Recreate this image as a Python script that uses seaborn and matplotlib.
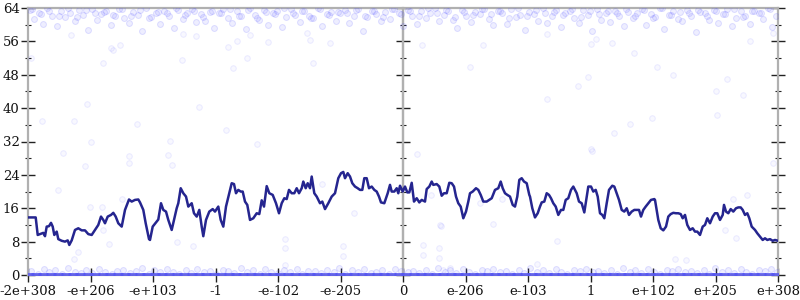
import numpy as np
import pandas as pd
import matplotlib
matplotlib.use("Agg")
import matplotlib.pyplot as plt
from matplotlib.ticker import MultipleLocator, NullFormatter
import seaborn as sns

# ---------------- data ----------------
x_tick_labels = ["-2e+308", "-e+206", "-e+103", "-1", "-e-102", "-e-205", "0",
                 "e-206", "e-103", "1", "e+102", "e+205", "e+308"]

# moving-average line (x in slot units 0..750, 62.5 per labelled tick)
line_x = [0, 7.7, 9.7, 12, 15.3, 17, 18.7, 21, 23, 24.7, 26.3, 28.7, 30.3, 33.7, 37, 39.7, 41.3, 43.7,
          47, 50.3, 53.7, 57, 60.3, 63.7, 67, 70.3, 73, 75.3, 77, 79.7, 83, 85.3, 87.7, 90.3, 93.7, 97,
          101, 103.7, 107, 110.3, 112, 115.3, 117.7, 121, 122,
          124.7, 128.7, 130.3, 133, 135.3, 138, 140.3, 143.7, 146, 148.7, 150.3, 152.7, 155.3, 158, 160.3,
          163.7, 166, 168.7, 171.3, 173.7, 175.3, 178, 181.3, 184.7, 187, 190.3, 192.7, 195.3, 198, 201.3,
          203.7, 206, 208, 210.3, 212.7, 214.7, 217, 219.3, 222, 225.3, 228.7, 231.3, 233.7, 236, 238.7,
          241.3, 244.7, 248,
          251, 253.7, 256.3, 258.7, 261, 263.7, 266.3, 268.7, 271, 273.7, 275.3, 277.7, 279.7, 282, 283.7,
          286.3, 288.7, 292, 294.3, 297, 300.3, 303.7, 307, 310.3, 313, 315.3, 317, 319.7, 322, 324.3, 327,
          329.7, 332, 334.3, 336.3, 338.7, 341, 343.7, 346.3, 348.7, 351, 353, 356.3, 359.7, 362, 363.7,
          366.3, 368.7, 370.3, 372,
          374.7, 377, 379.3, 381.3, 383.7, 386, 388.7, 391.3, 393.7, 397, 398.7, 401.3, 403.7, 405.3, 408.7,
          411.3, 413.7, 416, 418.7, 421.3, 423.7, 426, 428, 430.3, 432.7, 435.3, 438, 440.3, 442, 444.7, 448,
          450.3, 452.7, 455.3, 458.7, 461.3, 463.7, 467, 470.3, 472.7, 474.7, 477, 479.3, 482, 484.7, 487,
          489.3, 491.3, 493.7, 496, 498.7, 501.3,
          502, 504.3, 507, 509.7, 512, 513.7, 516.3, 518.7, 521, 523, 525.3, 527.7, 530.3, 533, 535.3, 537.7,
          540.3, 543, 545.3, 547, 548.7, 551, 553.7, 556.3, 558.7, 560.3, 563, 565.3, 567.7, 569.7, 572,
          574.3, 576.3, 578.7, 581, 584.3, 586.3, 588.7, 591, 593.7, 596.3, 598.7, 601, 603.7, 606.3, 608.7,
          611, 613, 615.3, 617.7, 620.3, 623, 626.3,
          627, 628.7, 630.3, 632.7, 635.3, 638, 640.3, 642.7, 645.3, 648, 650.3, 652.7, 654.7, 657, 659.3,
          662, 664.7, 667, 669.3, 672, 674.7, 677, 679.3, 682, 684.7, 687, 689.3, 692, 694.7, 696, 698,
          700.3, 702.7, 705.3, 708, 710.3, 712.7, 714.7, 717, 719.3, 721.3, 723.7, 727, 729.3, 732, 734.7,
          737, 739.3, 742, 744.7, 747, 750]
line_y = [13.8, 13.8, 9.6, 9.8, 10.1, 9.3, 11.6, 11.7, 12.5, 11.6, 9.6, 10.4, 8.6, 8.2, 8.0, 8.3, 7.2, 8.3,
          10.8, 11.2, 10.7, 10.7, 9.8, 9.6, 10.8, 12.0, 14.0, 13.2, 12.4, 14.0, 14.4, 14.9, 14.0, 12.4, 11.6, 15.6,
          18.1, 17.6, 18.0, 18.1, 17.4, 15.6, 12.4, 8.6, 8.4,
          11.6, 12.8, 13.3, 17.2, 15.6, 15.2, 13.2, 10.8, 13.2, 16.0, 17.2, 20.8, 19.6, 18.8, 16.4,
          17.2, 14.8, 14.0, 15.6, 11.6, 9.3, 13.2, 15.2, 15.8, 15.2, 16.4, 13.2, 11.6, 16.4, 19.6,
          22.0, 21.8, 19.6, 20.4, 20.0, 20.0, 17.6, 16.8, 13.2, 13.6, 14.8, 14.6, 17.9, 16.4, 21.3,
          19.6, 19.2, 17.2,
          14.8, 17.2, 18.4, 18.2, 20.4, 19.6, 19.6, 20.8, 19.6, 20.8, 22.4, 20.8, 22.0, 20.8, 23.6,
          19.6, 18.8, 17.2, 17.6, 15.8, 17.2, 18.8, 19.6, 23.2, 24.4, 24.7, 23.2, 24.4, 23.6, 22.0, 21.2,
          20.8, 20.4, 20.4, 23.2, 23.2, 20.8, 21.2, 20.4, 20.0, 18.8, 17.4, 17.2, 19.6, 21.6, 20.0,
          20.0, 20.8, 19.6, 21.4,
          20.0, 21.2, 19.8, 19.8, 22.1, 17.6, 18.4, 17.4, 18.0, 17.6, 20.6, 21.2, 22.4, 21.6, 21.8,
          21.2, 19.0, 19.6, 19.6, 22.1, 22.0, 21.2, 18.8, 17.2, 16.4, 13.6, 15.2, 17.6, 19.6, 20.0, 20.8,
          20.4, 19.2, 17.6, 17.6, 18.0, 18.4, 20.4, 20.8, 22.4, 20.8, 19.6, 19.2, 18.8, 16.8, 16.4,
          18.8, 22.8, 23.2, 22.4, 22.0, 19.2,
          18.8, 16.0, 13.8, 14.8, 16.4, 17.4, 17.6, 19.6, 19.2, 18.4, 17.2, 16.4, 14.4, 15.6, 15.6, 18.0,
          18.4, 20.4, 21.2, 20.4, 19.6, 17.6, 17.2, 15.0, 18.8, 21.2, 21.2, 20.0, 20.4, 18.8, 14.8,
          14.4, 13.6, 17.2, 20.4, 21.4, 21.2, 19.6, 18.0, 15.6, 15.2, 16.0, 14.4, 15.2, 15.6, 15.6,
          15.6, 14.0, 15.6, 16.4, 17.2, 18.0, 18.2,
          18.0, 15.6, 13.2, 11.2, 10.7, 11.6, 14.0, 14.6, 14.9, 14.8, 14.8, 14.6, 13.6, 14.4, 12.0,
          10.8, 11.2, 10.4, 10.4, 9.6, 11.6, 12.0, 13.6, 12.4, 14.0, 14.8, 14.8, 13.2, 14.4, 16.8, 15.2,
          14.8, 15.8, 15.2, 16.0, 16.2, 16.2, 15.6, 14.4, 14.8, 13.6, 11.6, 10.8, 10.0, 9.2, 8.4,
          8.8, 8.4, 8.6, 8.2, 8.4, 8.2]

# upper cloud of samples
top_x = [2, 6, 11, 15, 19, 24, 29, 33, 37, 42, 47, 51, 55, 60, 64, 69, 73, 78, 83, 87,
         91, 96, 101, 105, 110, 114, 118, 123, 128, 132, 136, 141, 146, 150, 155, 159, 164, 168, 173, 177,
         182, 186, 191, 195, 200, 204, 209, 213, 218, 222, 227, 231, 236, 240, 245, 249, 254, 258, 263, 267,
         272, 276, 281, 285, 290, 294, 299, 303, 308, 312, 317, 321, 326, 330, 335, 339, 344, 348, 353, 357,
         362, 366, 371, 375, 380, 384, 389, 393, 398, 402, 407, 411, 416, 420, 425, 429, 434, 438, 443, 447,
         452, 456, 461, 465, 470, 474, 479, 483, 488, 492, 497, 501, 506, 510, 515, 519, 524, 528, 533, 537,
         542, 546, 551, 555, 560, 564, 569, 573, 578, 582, 587, 591, 596, 600, 605, 609, 614, 618, 623, 627,
         632, 636, 641, 645, 650, 654, 659, 663, 668, 672, 677, 681, 686, 690, 695, 699, 704, 708, 713, 717,
         722, 726, 731, 735, 740, 744, 748]
top_y = [63.6, 61.4, 62.8, 60.2, 63.9, 62.1, 59.6, 63.2, 61.8, 62.9,
         60.8, 63.5, 62.3, 58.7, 63.8, 61.1, 62.6, 63.3, 59.9, 62.0,
         63.7, 61.6, 60.5, 63.0, 62.4, 58.4, 63.9, 61.9, 62.7, 60.1,
         63.4, 62.2, 59.3, 63.6, 61.3, 62.9, 63.8, 60.7, 62.5, 61.0,
         63.1, 59.1, 62.8, 63.7, 61.7, 60.3, 63.3, 62.1, 58.9, 63.9,
         62.4, 61.2, 63.5, 60.0, 62.7, 63.2, 59.5, 61.9, 63.8, 62.3,
         60.6, 63.4, 62.0, 61.5, 63.9, 59.8, 62.6, 63.1, 61.0, 62.8,
         63.6, 60.4, 62.2, 63.7, 58.6, 61.8, 63.3, 62.5, 60.9, 63.0,
         61.4, 63.8, 62.9, 59.7, 63.5, 62.1, 60.2, 63.2, 61.6, 62.7,
         63.9, 60.8, 62.4, 63.4, 61.1, 59.2, 63.6, 62.0, 60.6, 63.1,
         62.6, 63.8, 61.3, 59.9, 63.3, 62.8, 60.1, 63.7, 61.9, 62.3,
         58.8, 63.0, 62.5, 61.0, 63.9, 60.5, 62.2, 63.5, 59.4, 62.9,
         63.2, 61.7, 60.3, 63.6, 62.4, 58.5, 63.8, 61.2, 62.7, 60.7,
         63.4, 62.0, 59.6, 63.1, 61.5, 62.8, 63.7, 60.0, 62.6, 61.8,
         63.9, 59.0, 62.3, 63.3, 61.4, 60.9, 63.5, 62.1, 58.3, 63.0,
         62.9, 61.1, 63.6, 60.4, 62.5, 63.8, 59.8, 61.6, 63.2, 62.2,
         60.2, 63.4, 62.7, 61.3, 63.9, 59.5, 62.0]

top2_x = [4, 13, 21, 31, 40, 49, 58, 67, 76, 85, 94, 103, 112, 121, 130, 139, 148, 157, 166, 175,
          184, 193, 202, 211, 220, 229, 238, 247, 256, 265, 274, 283, 292, 301, 310, 319, 328, 337, 346, 355,
          364, 373, 382, 391, 400, 409, 418, 427, 436, 445, 454, 463, 472, 481, 490, 499, 508, 517, 526, 535,
          544, 553, 562, 571, 580, 589, 598, 607, 616, 625, 634, 643, 652, 661, 670, 679, 688, 697, 706, 715,
          724, 733, 742]
top2_y = [63.8, 62.6, 63.3, 62.1, 63.9, 61.8, 63.5, 62.9, 63.1, 62.4,
          63.7, 62.2, 63.6, 61.5, 63.0, 62.8, 63.9, 62.3, 63.4, 61.9,
          63.2, 62.7, 63.8, 62.0, 63.5, 61.7, 63.1, 62.5, 63.9, 62.9,
          63.3, 61.6, 63.7, 62.4, 63.0, 62.8, 63.6, 62.1, 63.4, 61.9,
          63.8, 62.6, 63.2, 62.0, 63.9, 62.7, 63.5, 61.8, 63.1, 62.3,
          63.7, 62.5, 63.3, 61.7, 63.9, 62.2, 63.6, 62.9, 63.0, 62.4,
          63.8, 61.9, 63.4, 62.6, 63.2, 62.8, 63.7, 62.1, 63.5, 61.6,
          63.9, 62.3, 63.1, 62.7, 63.6, 62.0, 63.3, 62.5, 63.8, 61.8,
          63.4, 62.9, 63.7]

# sparse samples in the middle of the range
mid_x = [3, 75, 59, 14, 46, 109, 171, 154, 205, 219, 198, 63, 142, 229,
         560, 550, 519, 629, 645, 699, 688, 715, 689, 624, 602, 586, 563, 606,
         35, 101, 57, 101, 140, 144, 30, 62, 74, 94, 75, 81, 50, 46, 149, 165,
         389, 294, 326, 257, 315, 257, 412, 395, 411, 422, 415, 509,
         564, 529, 647, 658, 697, 705, 719, 745, 257, 315, 403, 413, 465, 452, 474, 395, 411, 708,
         83, 92, 85, 43, 222, 200, 209, 240, 168, 155, 563, 584, 568, 722, 519, 745,
         285, 302, 442, 394, 455, 282, 279]
mid_y = [52.1, 50.9, 41.0, 36.9, 36.9, 36.2, 40.3, 51.5, 49.7, 52.0, 34.8, 31.9, 32.2, 31.4,
         47.5, 45.3, 42.2, 49.9, 47.9, 47.1, 44.2, 43.1, 38.4, 37.7, 36.2, 34.0, 30.2, 53.2,
         29.2, 28.5, 26.2, 26.8, 28.8, 26.4, 20.4, 16.4, 16.4, 18.2, 10.8, 7.4, 5.5, 3.8, 7.9, 7.0,
         29.0, 21.8, 14.9, 6.5, 4.6, 2.4, 12.0, 4.8, 4.1, 1.7, 1.2, 2.6,
         29.8, 8.2, 3.8, 3.6, 10.8, 18.2, 19.2, 26.8, 8.6, 7.0, 19.2, 11.8, 12.2, 17.3, 18.2, 7.2, 6.5, 8.9,
         54.3, 55.1, 54.0, 57.5, 57.5, 54.7, 56.2, 55.8, 57.4, 57.7, 55.4, 55.5, 56.6, 56.2, 57.7, 57.9,
         50.7, 55.5, 49.9, 55.2, 55.2, 56.4, 57.9]

# lower cloud of samples (many exact zeros)
zero_x = [1, 8, 15, 23, 30, 38, 45, 52, 60, 67, 75, 82, 90, 97, 104, 112, 119, 127, 134, 141,
          149, 156, 164, 171, 178, 186, 193, 201, 208, 215, 223, 230, 238, 245, 252, 260, 267, 275, 282, 289,
          297, 304, 312, 319, 326, 334, 341, 349, 356, 363, 371, 378, 386, 393, 400, 408, 415, 423, 430, 437,
          445, 452, 460, 467, 474, 482, 489, 497, 504, 511, 519, 526, 534, 541, 548, 556, 563, 571, 578, 585,
          593, 600, 608, 615, 622, 630, 637, 645, 652, 659, 667, 674, 682, 689, 696, 704, 711, 719, 726, 733,
          741, 748]
zero_y = [0.0] * len(zero_x)

low_x = [3, 10, 16, 21, 27, 34, 40, 47, 53, 58, 64, 71, 77, 84, 89, 95, 102, 108, 114, 121,
         126, 132, 139, 145, 151, 158, 163, 169, 176, 182, 188, 195, 200, 206, 213, 219, 225, 232, 237, 243,
         250, 256, 262, 269, 274, 280, 287, 293, 299, 306, 311, 317, 324, 330, 336, 343, 348, 354, 361, 367,
         373, 380, 385, 391, 398, 404, 410, 417, 422, 428, 435, 441, 447, 454, 459, 465, 472, 478, 484, 491,
         496, 502, 509, 515, 521, 528, 533, 539, 546, 552, 558, 565, 570, 576, 583, 589, 595, 602, 607, 613,
         620, 626, 632, 639, 644, 650, 657, 663, 669, 676, 681, 687, 694, 700, 706, 713, 718, 724, 731, 737,
         743, 749]
low_y = [0.9, 0.3, 1.4, 0.6, 1.1, 0.2, 1.6, 0.8, 0.4, 1.2,
         0.5, 1.5, 0.7, 0.2, 1.0, 1.3, 0.4, 0.9, 1.6, 0.3,
         1.1, 0.6, 1.4, 0.8, 0.2, 1.2, 0.5, 1.5, 0.7, 1.0,
         0.3, 1.3, 0.9, 0.4, 1.6, 0.6, 1.1, 0.2, 1.4, 0.8,
         0.5, 1.2, 0.7, 1.5, 0.3, 1.0, 0.9, 0.4, 1.3, 0.6,
         1.6, 0.2, 1.1, 0.8, 1.4, 0.5, 0.7, 1.2, 0.3, 1.5,
         0.9, 0.6, 1.0, 0.4, 1.3, 0.2, 1.6, 0.8, 1.1, 0.5,
         1.4, 0.7, 0.3, 1.2, 0.9, 1.5, 0.6, 1.0, 0.2, 1.3,
         0.4, 1.6, 0.8, 1.1, 0.5, 1.4, 0.7, 0.3, 1.2, 0.9,
         1.5, 0.6, 1.0, 0.4, 1.3, 0.2, 1.6, 0.8, 1.1, 0.5,
         1.4, 0.7, 0.3, 1.2, 0.9, 1.5, 0.6, 1.0, 0.4, 1.3,
         0.2, 1.6, 0.8, 1.1, 0.5, 1.4, 0.7, 0.3, 1.2, 0.9,
         1.5, 0.6]

# ---------------- plotting ----------------
sns.set_style("white")
plt.rcParams["font.family"] = ["DejaVu Serif", "DejaVu Sans"]

band = pd.DataFrame({"x": top_x + top2_x + low_x, "y": top_y + top2_y + low_y})
sparse = pd.DataFrame({"x": mid_x, "y": mid_y})
zeros = pd.DataFrame({"x": zero_x, "y": zero_y})
line_df = pd.DataFrame({"x": line_x, "y": line_y})

fig, ax = plt.subplots(figsize=(8, 3), dpi=100)
fig.subplots_adjust(left=28 / 800, right=778 / 800, top=1 - 8 / 300, bottom=1 - 275 / 300)

spine_grey = "#b0b0b0"
ax.axvline(375, color=spine_grey, lw=1.6, zorder=1)

sns.scatterplot(data=sparse, x="x", y="y", ax=ax, s=16,
                color=(0.3, 0.3, 1.0, 0.04), edgecolor=(0.3, 0.3, 1.0, 0.1),
                linewidth=0.7, zorder=3, legend=False)
sns.scatterplot(data=band, x="x", y="y", ax=ax, s=18,
                color=(0.3, 0.3, 1.0, 0.09), edgecolor=(0.3, 0.3, 1.0, 0.17),
                linewidth=0.7, zorder=3, legend=False)
# the many exact-zero samples overlap into a solid strip along the baseline
sns.scatterplot(data=zeros, x="x", y="y", ax=ax, s=45, marker="_",
                color=(0.33, 0.33, 0.95, 0.8), linewidth=3.6,
                zorder=3, legend=False, clip_on=True)
sns.lineplot(data=line_df, x="x", y="y", ax=ax, color="#25258f", lw=1.8,
             estimator=None, sort=False, zorder=4)

ax.set_xlim(0, 750)
ax.set_ylim(0, 64)
ax.set_xlabel("")
ax.set_ylabel("")

ax.set_xticks([i * 62.5 for i in range(len(x_tick_labels))])
ax.set_xticklabels(x_tick_labels)
ax.yaxis.set_major_locator(MultipleLocator(8))
ax.yaxis.set_minor_locator(MultipleLocator(4))

for s in ax.spines.values():
    s.set_color(spine_grey)
    s.set_linewidth(1.6)

ax.tick_params(axis="both", which="major", direction="inout", length=10, width=1.0,
               color="#222222", labelsize=9.5, labelcolor="#111111")
ax.tick_params(axis="y", which="minor", direction="inout", length=5, width=0.8, color="#222222")
ax.tick_params(axis="y", which="both", left=True, right=True, labelright=False)
ax.tick_params(axis="x", which="both", bottom=True, top=False, pad=2)
ax.tick_params(axis="y", pad=1)

# central axis at x = 0 with its own ticks (no labels)
sec = ax.secondary_yaxis(0.5)
sec.yaxis.set_major_locator(MultipleLocator(8))
sec.yaxis.set_minor_locator(MultipleLocator(4))
sec.yaxis.set_major_formatter(NullFormatter())
sec.yaxis.set_minor_formatter(NullFormatter())
sec.tick_params(which="major", direction="inout", length=10, width=1.0, color="#222222",
                labelleft=False, labelright=False)
sec.tick_params(which="minor", direction="inout", length=5, width=0.8, color="#222222")
for s in sec.spines.values():
    s.set_color(spine_grey)
    s.set_linewidth(1.6)

fig.savefig("out.png", dpi=100)
